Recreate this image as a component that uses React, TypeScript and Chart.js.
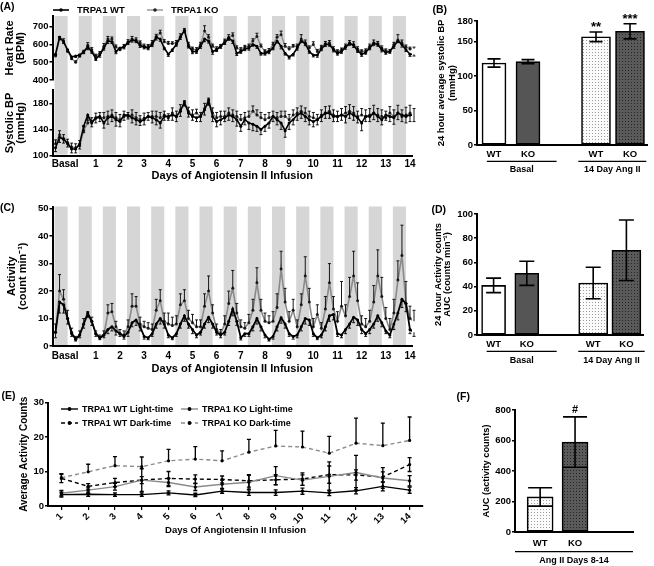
import React, { useEffect, useRef } from "react";
import { Chart, registerables } from "chart.js";

Chart.register(...registerables);

const FONT = "'Liberation Sans', Arial, Helvetica, sans-serif";
const BAND = "#d6d6d6";
const WT_LINE = "#000000";
const KO_LINE = "#8a8a8a";
const KO_FILL = "#555555";

// ---------------- Panels A & C : time course (4 h bins, 6 per day) ----------------
const DAY_LABELS = ["Basal", "1", "2", "3", "4", "5", "6", "7", "8", "9", "10", "11", "12", "13", "14"];
const BIN_HOURS = [2, 6, 10, 14, 18, 22];
const DARK_PHASE = [1, 14];

const HR_WT = [
  545, 640, 615, 570, 530, 535,
  540, 560, 585, 560, 520, 540,
  580, 620, 615, 560, 580, 585,
  610, 625, 620, 595, 585, 580,
  600, 640, 630, 580, 545, 570,
  600, 640, 680, 590, 560, 560,
  590, 630, 620, 560, 570, 590,
  610, 635, 620, 550, 560, 575,
  580, 600, 590, 550, 550, 560,
  580, 620, 590, 550, 530, 545,
  580, 620, 605, 560, 540, 540,
  575, 600, 600, 570, 550, 560,
  585, 605, 595, 565, 545, 555,
  580, 605, 600, 570, 555, 560,
  590, 620, 600, 570, 545, 545,
];
const HR_WT_ERR = [
  8, 12, 10, 10, 12, 8,
  10, 12, 15, 10, 10, 12,
  12, 15, 10, 12, 10, 10,
  10, 12, 10, 12, 10, 10,
  12, 15, 12, 10, 12, 10,
  10, 12, 12, 10, 12, 10,
  12, 15, 12, 15, 10, 12,
  10, 12, 15, 12, 10, 10,
  12, 10, 12, 10, 10, 12,
  10, 12, 15, 10, 12, 10,
  12, 10, 12, 10, 10, 12,
  10, 12, 10, 12, 10, 10,
  12, 10, 12, 10, 12, 10,
  10, 12, 10, 12, 10, 10,
  12, 10, 15, 10, 12, 10,
];
const HR_KO = [
  535, 630, 620, 560, 520, 500,
  535, 555, 595, 570, 535, 550,
  590, 630, 630, 585, 570, 590,
  615, 630, 625, 610, 590, 590,
  610, 645, 665, 615, 605, 605,
  610, 645, 675, 600, 575, 570,
  600, 675, 640, 590, 575, 590,
  620, 640, 650, 580, 570, 585,
  590, 620, 645, 590, 560, 565,
  600, 640, 655, 590, 575, 590,
  590, 630, 610, 580, 600, 560,
  585, 605, 610, 575, 560, 570,
  590, 610, 600, 575, 560, 565,
  590, 610, 605, 580, 565, 560,
  600, 625, 610, 585, 575, 575,
];
const HR_KO_ERR = [
  10, 15, 12, 10, 12, 8,
  10, 12, 15, 12, 10, 10,
  15, 15, 12, 12, 12, 10,
  12, 15, 12, 10, 12, 10,
  12, 12, 15, 12, 12, 10,
  12, 15, 15, 12, 10, 12,
  12, 30, 15, 12, 12, 10,
  10, 15, 15, 12, 12, 10,
  12, 12, 18, 12, 10, 12,
  12, 15, 20, 15, 12, 10,
  12, 25, 15, 12, 15, 12,
  10, 12, 12, 12, 10, 10,
  12, 12, 15, 12, 10, 10,
  12, 15, 12, 12, 10, 12,
  12, 30, 15, 12, 10, 10,
];

const BP_WT = [
  112, 128, 125, 118, 110, 110,
  118, 145, 162, 150, 158, 160,
  150, 158, 160, 155, 152, 162,
  162, 158, 155, 152, 155, 160,
  158, 155, 150, 160, 160, 162,
  160, 168, 182, 165, 160, 158,
  160, 170, 185, 160, 152, 155,
  158, 162, 160, 155, 145, 155,
  150, 148, 145, 140, 145, 150,
  160, 155, 150, 138, 150, 155,
  162, 165, 160, 155, 152, 155,
  160, 165, 165, 160, 160, 162,
  160, 165, 162, 158, 150, 160,
  160, 165, 160, 155, 162, 160,
  158, 165, 162, 160, 162, 162,
];
const BP_WT_ERR = [
  6, 8, 6, 5, 6, 6,
  8, 10, 8, 6, 8, 8,
  8, 10, 8, 10, 8, 8,
  6, 8, 8, 6, 8, 6,
  8, 8, 8, 6, 6, 8,
  8, 8, 6, 6, 6, 6,
  8, 8, 8, 8, 8, 8,
  6, 8, 8, 10, 8, 8,
  10, 10, 8, 8, 8, 8,
  8, 8, 10, 10, 10, 8,
  8, 8, 8, 8, 8, 8,
  8, 8, 8, 8, 8, 8,
  10, 8, 8, 8, 12, 8,
  8, 10, 8, 8, 8, 8,
  10, 10, 10, 10, 10, 10,
];
const BP_KO = [
  118, 132, 126, 120, 113, 112,
  115, 138, 150, 152, 157, 158,
  158, 160, 162, 158, 155, 160,
  160, 162, 158, 155, 157, 160,
  160, 160, 158, 162, 158, 165,
  160, 170, 178, 168, 162, 165,
  160, 172, 180, 165, 158, 160,
  160, 165, 162, 160, 155, 158,
  160, 168, 162, 158, 155, 158,
  160, 158, 160, 160, 155, 162,
  165, 168, 165, 160, 158, 155,
  162, 165, 168, 162, 160, 162,
  165, 168, 165, 160, 162, 160,
  162, 165, 162, 160, 158, 165,
  160, 165, 160, 162, 165, 162,
];
const BP_KO_ERR = [
  6, 6, 6, 5, 6, 6,
  8, 8, 8, 6, 8, 8,
  8, 8, 8, 8, 8, 8,
  6, 8, 8, 6, 8, 6,
  8, 8, 8, 6, 6, 8,
  8, 8, 6, 6, 8, 6,
  6, 8, 8, 8, 8, 8,
  8, 8, 8, 8, 8, 8,
  8, 8, 8, 8, 8, 8,
  8, 8, 8, 8, 8, 8,
  8, 8, 8, 8, 8, 8,
  8, 10, 8, 8, 8, 10,
  10, 10, 10, 8, 10, 10,
  10, 12, 10, 10, 10, 10,
  10, 12, 10, 12, 12, 10,
];

const ACT_WT = [
  5, 16, 15, 10, 4.5, 2.5,
  4, 8, 12, 9, 4.5, 3,
  4, 6, 7, 5.5, 4.5, 3.5,
  5, 8.5, 9.5, 7, 3.5, 3,
  4.5, 8, 10, 8, 4, 3,
  4.5, 8, 11, 8, 6, 4,
  5, 8, 10.5, 8, 5, 4,
  5, 9, 13.5, 9, 3, 4.5,
  4.5, 7, 10, 7, 4, 2.5,
  3.5, 7, 10.3, 8, 4.5, 3.5,
  4, 7, 10, 9.5, 4.5, 3,
  4, 7, 11, 11.5, 4.5, 4,
  6, 8, 10.5, 9.5, 6, 4.5,
  6, 8, 11, 8.5, 5.5, 4,
  8, 12, 17, 15.5, 6, 5,
];
const ACT_WT_ERR = [
  2, 4, 3, 2, 1, 0.7,
  1, 1.5, 1.5, 1.5, 1, 0.7,
  1, 1.5, 1.5, 1.5, 1, 1,
  1.5, 1.5, 2, 1.5, 1, 0.7,
  1, 1.5, 2, 1.5, 1, 0.7,
  1, 1.5, 2, 1.5, 1.5, 1,
  1, 1.5, 2, 1.5, 1, 1,
  1, 1.5, 2.5, 1.5, 0.8, 1,
  1, 1.5, 2, 1.5, 1, 0.7,
  1, 1.5, 2, 1.5, 1, 1,
  1, 1.5, 2, 2, 1, 0.7,
  1, 1.5, 2, 2, 1, 1,
  1.5, 1.5, 2, 2, 1.5, 1,
  1.5, 1.5, 2, 1.5, 1, 1,
  2, 2.5, 3, 3, 1.5, 1.5,
];
const ACT_KO = [
  5, 20, 17, 10, 5, 2.5,
  4, 8, 11, 9, 4.5, 3,
  4, 12, 12.5, 7, 4.5, 4,
  7, 14.5, 14.5, 8, 7, 6.5,
  6, 13, 16.5, 9, 8, 7.5,
  8, 15, 16.5, 10, 8.5, 7,
  7, 14.5, 20, 12, 6, 4.5,
  8, 15.5, 21, 12, 7, 6.5,
  8.5, 13, 23, 13, 9, 8.5,
  9, 14, 28, 16, 9, 13,
  7, 15, 25.5, 16, 7, 11.5,
  6.5, 13.5, 23, 13.5, 9, 14.5,
  11, 18, 25.5, 16.5, 8, 7,
  9, 16, 25.5, 18, 10, 6,
  12, 24, 33, 15.5, 10, 9,
];
const ACT_KO_ERR = [
  3, 6, 3.5, 3, 1.5, 1,
  1.5, 2, 1.5, 1.5, 1, 1,
  1.5, 3, 3, 2, 1.5, 1.5,
  2.5, 4.5, 3.5, 2.5, 2, 2,
  2, 4, 4, 3, 4, 3,
  3, 4, 4, 3, 3, 2.5,
  2.5, 4.5, 5.5, 3, 2, 1.5,
  3, 4.5, 6.5, 3.5, 2.5, 2,
  3, 4, 5.5, 4, 3, 2.5,
  3.5, 5, 6.5, 5, 3.5, 4,
  2.5, 4, 7, 5, 3, 3.5,
  2, 4.5, 7, 4.5, 3.5, 9,
  4, 7, 9, 6.5, 3, 3,
  4, 6, 9.5, 7, 4, 4,
  5, 7, 11, 8, 4.5, 4,
];

// ---------------- Panel E ----------------
const E_DAYS = ["1", "2", "3", "4", "5", "6", "7", "8", "9", "10", "11", "12", "13", "14"];
const E_WT_LIGHT = [3.3, 3.4, 3.3, 3.3, 3.8, 3.2, 4.3, 3.9, 3.9, 4.3, 3.8, 4.4, 5.7, 4.6];
const E_WT_LIGHT_ERR = [0.7, 0.6, 0.5, 0.5, 0.6, 0.5, 0.6, 0.8, 0.8, 0.9, 0.8, 0.9, 1.3, 0.9];
const E_KO_LIGHT = [3.7, 4.6, 5.6, 7.5, 6.8, 5.5, 6.3, 6.9, 8.8, 7.5, 8.6, 9.7, 8.1, 7.3];
const E_KO_LIGHT_ERR = [0.8, 0.9, 1.0, 3.3, 1.2, 1.0, 1.2, 2.0, 2.6, 1.5, 4.2, 5.0, 3.0, 1.5];
const E_WT_DARK = [8.0, 5.7, 6.8, 7.5, 8.0, 7.8, 7.7, 7.3, 7.6, 7.8, 9.1, 9.0, 8.4, 12.0];
const E_WT_DARK_ERR = [1.2, 0.8, 1.2, 1.0, 2.0, 1.2, 1.0, 1.8, 1.5, 1.8, 2.5, 1.5, 1.5, 2.0];
const E_KO_DARK = [8.2, 9.9, 11.7, 11.4, 13.1, 13.6, 13.1, 15.6, 17.4, 17.1, 15.3, 18.2, 17.5, 19.0];
const E_KO_DARK_ERR = [1.2, 2.2, 2.6, 2.8, 3.3, 3.6, 2.9, 3.7, 4.5, 4.6, 4.9, 7.3, 6.5, 6.8];

// ---------------- Panels B, D, F (bars) ----------------
const BAR_CATS = ["WT", "KO", "", "WT", "KO"];
const GROUP_NAMES = ["Basal", "14 Day Ang II"];
const BP24_BASAL = [119, 121];
const BP24_BASAL_ERR = [6, 3];
const BP24_ANG = [157, 165];
const BP24_ANG_ERR = [7, 11];
const BP24_SIG = ["**", "***"];
const B_YTICKS = [0, 50, 100, 150, 180];

const AUC24_BASAL = [41, 51];
const AUC24_BASAL_ERR = [6, 10];
const AUC24_ANG = [43, 70];
const AUC24_ANG_ERR = [13, 25];

const F_CATS = ["WT", "KO"];
const AUC_814 = [230, 590];
const AUC_814_ERR = [60, 165];
const F_SIG = ["", "#"];
const F_GROUP = "Ang II Days 8-14";

// ---------------- layout (page pixels) ----------------
type Box = { left: number; top: number; width: number; height: number };
type Area = { l: number; t: number; r: number; b: number };
const BOX_HR: Box = { left: 0, top: 0, width: 420, height: 86 };
const AREA_HR: Area = { l: 52.5, t: 16, r: 412, b: 80 };
const BOX_BP: Box = { left: 0, top: 86, width: 420, height: 96 };
const AREA_BP: Area = { l: 52.5, t: 90.3, r: 412, b: 155.5 };
const BOX_C: Box = { left: 0, top: 196, width: 420, height: 182 };
const AREA_C: Area = { l: 52.5, t: 206.5, r: 412, b: 346 };
const BOX_B: Box = { left: 420, top: 0, width: 234, height: 180 };
const AREA_B: Area = { l: 477, t: 21, r: 647, b: 145 };
const BOX_D: Box = { left: 420, top: 196, width: 234, height: 176 };
const AREA_D: Area = { l: 477, t: 214, r: 643, b: 335 };
const BOX_E: Box = { left: 0, top: 385, width: 440, height: 155 };
const AREA_E: Area = { l: 48, t: 402.5, r: 423, b: 506 };
const BOX_F: Box = { left: 470, top: 385, width: 184, height: 181 };
const AREA_F: Area = { l: 515, t: 410, r: 633, b: 532 };

const TIME_MIN = -1;
const TIME_MAX = 356;
const dayTick = (i: number) => (i === 0 ? 11.5 : 18 + 24 * i);
const HOURS = DAY_LABELS.flatMap((_, d) => BIN_HOURS.map((h) => d * 24 + h));
const pts = (vals: number[]) => vals.map((y, i) => ({ x: HOURS[i], y }));

function frame(box: Box, area: Area, xVisible = true) {
  const yWidth = area.l - box.left;
  const xHeight = box.top + box.height - area.b;
  return {
    layout: {
      autoPadding: false,
      padding: { left: 0, top: area.t - box.top, right: box.left + box.width - area.r, bottom: xVisible ? 0 : xHeight },
    },
    fitY: (s: any) => {
      s.width = yWidth;
      s.paddingTop = 0;
      s.paddingBottom = 0;
    },
    fitX: (s: any) => {
      s.height = xVisible ? xHeight : 0;
      s.paddingLeft = 0;
      s.paddingRight = 0;
    },
  };
}

const bold = (size: number, lh = 1.2) => ({ family: FONT, size, weight: "bold" as const, lineHeight: lh });

function yAxis(fit: any, min: number, max: number, step: number, title: any, tSize: number, tLH: number, tPad: number, extra: any = {}) {
  return {
    type: "linear",
    min,
    max,
    afterFit: fit,
    ticks: { stepSize: step, includeBounds: false, color: "#000", font: bold(9.5), padding: 1 },
    grid: { display: true, drawOnChartArea: false, drawTicks: true, tickLength: 3, color: "#000", lineWidth: 1.5 },
    border: { display: true, color: "#000", width: 2 },
    title: { display: true, text: title, color: "#000", font: bold(tSize, tLH), padding: { top: tPad, bottom: 0 } },
    ...extra,
  };
}

// ---------------- plugins ----------------
const bandsPlugin = {
  id: "bands",
  beforeDatasetsDraw(chart: any, _a: any, opts: any) {
    if (!opts || !opts.days) return;
    const { ctx, chartArea } = chart;
    const xs = chart.scales.x;
    const top = opts.extendTop ? 0 : chartArea.top;
    const bottom = opts.extendBottom ? chart.height : chartArea.bottom - 1;
    ctx.save();
    ctx.fillStyle = opts.color;
    for (let d = 0; d < opts.days; d++) {
      let x1 = xs.getPixelForValue(d * 24 + opts.start);
      let x2 = xs.getPixelForValue(d * 24 + opts.end);
      x1 = Math.max(x1, chartArea.left + 1);
      x2 = Math.min(x2, chartArea.right);
      if (x2 > x1) ctx.fillRect(x1, top, x2 - x1, bottom - top);
    }
    ctx.restore();
  },
};

const errPlugin = {
  id: "errbars",
  afterDatasetsDraw(chart: any) {
    const { ctx } = chart;
    chart.data.datasets.forEach((ds: any, i: number) => {
      if (!ds.errUp && !ds.errDown && !ds.notes) return;
      const meta = chart.getDatasetMeta(i);
      const ys = chart.scales[meta.yAxisID];
      ctx.save();
      ctx.strokeStyle = ds.errColor || "#000";
      ctx.lineWidth = ds.errWidth || 1;
      const cap = (ds.errCap || 4) / 2;
      meta.data.forEach((el: any, j: number) => {
        const raw = ds.data[j];
        const v = raw == null ? null : typeof raw === "object" ? raw.y : raw;
        if (v == null) return;
        const up = ds.errUp ? ds.errUp[j] || 0 : 0;
        const dn = ds.errDown ? ds.errDown[j] || 0 : 0;
        const x = el.x;
        const y0 = ys.getPixelForValue(v);
        const y1 = ys.getPixelForValue(v + up);
        const y2 = ys.getPixelForValue(v - dn);
        ctx.beginPath();
        if (up > 0) {
          ctx.moveTo(x, y0);
          ctx.lineTo(x, y1);
          ctx.moveTo(x - cap, y1);
          ctx.lineTo(x + cap, y1);
        }
        if (dn > 0) {
          ctx.moveTo(x, y0);
          ctx.lineTo(x, y2);
          ctx.moveTo(x - cap, y2);
          ctx.lineTo(x + cap, y2);
        }
        ctx.stroke();
        if (ds.notes && ds.notes[j]) {
          ctx.fillStyle = "#000";
          ctx.font = `bold ${ds.noteSize || 12}px ${FONT}`;
          ctx.textAlign = "center";
          ctx.textBaseline = "alphabetic";
          ctx.fillText(ds.notes[j], x, y1 - (ds.noteGap || 0));
        }
      });
      ctx.restore();
    });
  },
};

const legendPlugin = {
  id: "seriesLegend",
  afterDraw(chart: any, _a: any, opts: any) {
    if (!opts || !opts.items) return;
    const { ctx } = chart;
    ctx.save();
    ctx.font = `bold ${opts.size}px ${FONT}`;
    ctx.textBaseline = "middle";
    ctx.textAlign = "left";
    opts.items.forEach((it: any) => {
      const ds = chart.data.datasets[it.ds];
      ctx.strokeStyle = ds.borderColor;
      ctx.lineWidth = ds.borderWidth;
      ctx.setLineDash(ds.borderDash || []);
      ctx.beginPath();
      ctx.moveTo(it.x, it.y);
      ctx.lineTo(it.x + opts.lineLen, it.y);
      ctx.stroke();
      ctx.setLineDash([]);
      ctx.fillStyle = ds.pointBackgroundColor;
      ctx.beginPath();
      ctx.arc(it.x + opts.lineLen / 2, it.y, (ds.pointRadius || 1.5) + 0.3, 0, Math.PI * 2);
      ctx.fill();
      ctx.fillStyle = "#000";
      ctx.fillText(ds.label, it.x + opts.lineLen + opts.gap, it.y + 0.5);
    });
    ctx.restore();
  },
};

const groupPlugin = {
  id: "groups",
  afterDraw(chart: any, _a: any, opts: any) {
    if (!opts || !opts.groups) return;
    const { ctx, chartArea } = chart;
    const xs = chart.scales.x;
    ctx.save();
    ctx.strokeStyle = "#000";
    ctx.lineWidth = 1.2;
    ctx.fillStyle = "#000";
    ctx.font = `bold ${opts.size}px ${FONT}`;
    ctx.textAlign = "center";
    ctx.textBaseline = "middle";
    opts.groups.forEach((g: any) => {
      const x1 = xs.getPixelForValue(g.from);
      const x2 = xs.getPixelForValue(g.to);
      const ly = chartArea.bottom + opts.lineDy;
      ctx.beginPath();
      ctx.moveTo(x1, ly);
      ctx.lineTo(x2, ly);
      ctx.stroke();
      ctx.fillText(g.label, (x1 + x2) / 2, chartArea.bottom + opts.textDy);
    });
    ctx.restore();
  },
};

function dotPattern(bg: string, dot: string): any {
  const c = document.createElement("canvas");
  c.width = 3;
  c.height = 3;
  const g = c.getContext("2d");
  if (!g) return bg;
  g.fillStyle = bg;
  g.fillRect(0, 0, 3, 3);
  g.fillStyle = dot;
  g.fillRect(1, 1, 1, 1);
  return g.createPattern(c, "repeat") || bg;
}

const baseOpts = {
  responsive: false,
  animation: false,
  devicePixelRatio: 1,
  events: [],
};

function timeX(fit: any, show: boolean, tickPad: number, titlePad: number) {
  return {
    type: "linear",
    min: TIME_MIN,
    max: TIME_MAX,
    display: show,
    afterFit: fit,
    afterBuildTicks: (s: any) => {
      s.ticks = DAY_LABELS.map((_, i) => ({ value: dayTick(i) }));
    },
    ticks: {
      autoSkip: false,
      maxRotation: 0,
      minRotation: 0,
      color: "#000",
      font: bold(10),
      padding: tickPad,
      callback: (_v: any, i: number) => DAY_LABELS[i],
    },
    grid: { display: false, drawTicks: false },
    border: { display: true, color: "#000", width: 2 },
    title: {
      display: show,
      text: "Days of Angiotensin II Infusion",
      color: "#000",
      font: bold(11, 1.1),
      padding: { top: 0, bottom: titlePad },
    },
  };
}

function seriesSets(wtLabel: string, koLabel: string, wt: number[], wtErr: number[], ko: number[], koErr: number[], wtW: number, koW: number) {
  return [
    {
      label: wtLabel,
      data: pts(wt),
      borderColor: WT_LINE,
      borderWidth: wtW,
      pointRadius: 1.5,
      pointBackgroundColor: "#000",
      pointBorderWidth: 0,
      errDown: wtErr,
      errCap: 3,
      errWidth: 0.9,
    },
    {
      label: koLabel,
      data: pts(ko),
      borderColor: KO_LINE,
      borderWidth: koW,
      pointRadius: 1.5,
      pointBackgroundColor: "#222",
      pointBorderWidth: 0,
      errUp: koErr,
      errCap: 3,
      errWidth: 0.9,
    },
  ];
}

function barSets(cats: string[], basal: number[], basalErr: number[], ang: number[], angErr: number[], lightPat: any, darkPat: any, capW: number, sig: string[] | null) {
  const n = cats.length;
  const basalData = cats.map((_, i) => (i < 2 ? basal[i] : null));
  const basalErrs = cats.map((_, i) => (i < 2 ? basalErr[i] : 0));
  const angData = cats.map((_, i) => (i >= 3 ? ang[i - 3] : null));
  const angErrs = cats.map((_, i) => (i >= 3 ? angErr[i - 3] : 0));
  const notes = sig ? cats.map((_, i) => (i >= 3 ? sig[i - 3] : "")) : null;
  return [
    {
      label: "Basal",
      data: basalData,
      backgroundColor: ["#ffffff", KO_FILL, "#fff", "#fff", "#fff"].slice(0, n),
      borderColor: "#000",
      borderWidth: 1.6,
      borderSkipped: false,
      barThickness: 24,
      grouped: false,
      errUp: basalErrs,
      errDown: basalErrs,
      errCap: capW,
      errWidth: 1.6,
    },
    {
      label: "14 Day Ang II",
      data: angData,
      backgroundColor: ["#fff", "#fff", "#fff", lightPat, darkPat].slice(0, n),
      borderColor: "#000",
      borderWidth: 1.6,
      borderSkipped: false,
      barThickness: 29,
      grouped: false,
      errUp: angErrs,
      errDown: angErrs,
      errCap: capW,
      errWidth: 1.6,
      notes,
      noteSize: 13,
      noteGap: 1,
    },
  ];
}

function catX(fit: any, labels: string[], pad: number) {
  return {
    type: "category",
    labels,
    offset: true,
    afterFit: fit,
    ticks: { color: "#000", font: bold(9.5, 1.2), padding: pad, autoSkip: false, maxRotation: 0 },
    grid: { display: false, drawTicks: false },
    border: { display: true, color: "#000", width: 2 },
  };
}

export default function App() {
  const hrRef = useRef<HTMLCanvasElement>(null);
  const bpRef = useRef<HTMLCanvasElement>(null);
  const cRef = useRef<HTMLCanvasElement>(null);
  const bRef = useRef<HTMLCanvasElement>(null);
  const dRef = useRef<HTMLCanvasElement>(null);
  const eRef = useRef<HTMLCanvasElement>(null);
  const fRef = useRef<HTMLCanvasElement>(null);

  useEffect(() => {
    const charts: any[] = [];
    const make = (cv: HTMLCanvasElement | null, cfg: any) => {
      if (cv) charts.push(new Chart(cv, cfg));
    };
    const lightPat = dotPattern("#fbfbfb", "#9c9c9c");
    const darkPat = dotPattern("#5a5a5a", "#262626");

    // ---- A: heart rate ----
    const fHR = frame(BOX_HR, AREA_HR, false);
    make(hrRef.current, {
      type: "line",
      data: { datasets: seriesSets("TRPA1 WT", "TRPA1 KO", HR_WT, HR_WT_ERR, HR_KO, HR_KO_ERR, 1.6, 1.3) },
      options: {
        ...baseOpts,
        layout: fHR.layout,
        scales: {
          x: timeX(fHR.fitX, false, 0, 0),
          y: yAxis(fHR.fitY, 400, 760, 100, ["Heart Rate", "(BPM)"], 11, 1.0, 4.5),
        },
        plugins: {
          legend: { display: false },
          tooltip: { enabled: false },
          bands: { days: 15, start: DARK_PHASE[0], end: DARK_PHASE[1], color: BAND, extendTop: false, extendBottom: true },
          seriesLegend: { size: 9.5, lineLen: 16, gap: 8, items: [{ ds: 0, x: 53, y: 10 }, { ds: 1, x: 147, y: 10 }] },
        },
      },
      plugins: [bandsPlugin, errPlugin, legendPlugin],
    });

    // ---- A: systolic BP ----
    const fBP = frame(BOX_BP, AREA_BP, true);
    make(bpRef.current, {
      type: "line",
      data: { datasets: seriesSets("TRPA1 WT", "TRPA1 KO", BP_WT, BP_WT_ERR, BP_KO, BP_KO_ERR, 1.6, 1.3) },
      options: {
        ...baseOpts,
        layout: fBP.layout,
        scales: {
          x: timeX(fBP.fitX, true, 2.5, 0),
          y: yAxis(fBP.fitY, 100, 200, 20, ["Systolic BP", "(mmHg)"], 11, 1.0, 4.5),
        },
        plugins: {
          legend: { display: false },
          tooltip: { enabled: false },
          bands: { days: 15, start: DARK_PHASE[0], end: DARK_PHASE[1], color: BAND, extendTop: true, extendBottom: false },
        },
      },
      plugins: [bandsPlugin, errPlugin],
    });

    // ---- C: activity ----
    const fC = frame(BOX_C, AREA_C, true);
    make(cRef.current, {
      type: "line",
      data: { datasets: seriesSets("TRPA1 WT", "TRPA1 KO", ACT_WT, ACT_WT_ERR, ACT_KO, ACT_KO_ERR, 1.8, 1.6) },
      options: {
        ...baseOpts,
        layout: fC.layout,
        scales: {
          x: timeX(fC.fitX, true, 4, 3),
          y: yAxis(fC.fitY, 0, 50.8, 10, ["Activity", "(count min\u207B\u00B9)"], 11, 1.0, 6.5),
        },
        plugins: {
          legend: { display: false },
          tooltip: { enabled: false },
          bands: { days: 15, start: DARK_PHASE[0], end: DARK_PHASE[1], color: BAND, extendTop: false, extendBottom: false },
        },
      },
      plugins: [bandsPlugin, errPlugin],
    });

    // ---- B: 24 h BP bars ----
    const fB = frame(BOX_B, AREA_B, true);
    make(bRef.current, {
      type: "bar",
      data: { labels: BAR_CATS, datasets: barSets(BAR_CATS, BP24_BASAL, BP24_BASAL_ERR, BP24_ANG, BP24_ANG_ERR, lightPat, darkPat, 13, BP24_SIG) },
      options: {
        ...baseOpts,
        layout: fB.layout,
        scales: {
          x: catX(fB.fitX, BAR_CATS, 3.7),
          y: yAxis(fB.fitY, 0, 180, 50, ["24 hour average systolic BP", "(mmHg)"], 9.5, 11.3 / 9.5, 15.8, {
            afterBuildTicks: (s: any) => {
              s.ticks = B_YTICKS.map((v) => ({ value: v }));
            },
          }),
        },
        plugins: {
          legend: { display: false },
          tooltip: { enabled: false },
          groups: {
            size: 9,
            lineDy: 16.3,
            textDy: 25,
            groups: [
              { from: -0.21, to: 1.84, label: GROUP_NAMES[0] },
              { from: 2.48, to: 4.48, label: GROUP_NAMES[1] },
            ],
          },
        },
      },
      plugins: [errPlugin, groupPlugin],
    });

    // ---- D: 24 h activity AUC bars ----
    const fD = frame(BOX_D, AREA_D, true);
    make(dRef.current, {
      type: "bar",
      data: { labels: BAR_CATS, datasets: barSets(BAR_CATS, AUC24_BASAL, AUC24_BASAL_ERR, AUC24_ANG, AUC24_ANG_ERR, lightPat, darkPat, 15, null) },
      options: {
        ...baseOpts,
        layout: fD.layout,
        scales: {
          x: catX(fD.fitX, BAR_CATS, 3.7),
          y: yAxis(fD.fitY, 0, 100, 20, ["24 hour Activity counts", "AUC (counts min\u207B\u00B9)"], 9.3, 9.7 / 9.3, 13.2),
        },
        plugins: {
          legend: { display: false },
          tooltip: { enabled: false },
          groups: {
            size: 9,
            lineDy: 16.3,
            textDy: 25.3,
            groups: [
              { from: -0.21, to: 1.9, label: GROUP_NAMES[0] },
              { from: 2.55, to: 4.55, label: GROUP_NAMES[1] },
            ],
          },
        },
      },
      plugins: [errPlugin, groupPlugin],
    });

    // ---- E: light/dark average activity ----
    const fE = frame(BOX_E, AREA_E, true);
    const eSet = (label: string, data: number[], err: number[], color: string, dash: number[], both: boolean) => ({
      label,
      data,
      borderColor: color,
      borderWidth: 1.4,
      borderDash: dash,
      pointRadius: 1.6,
      pointBackgroundColor: "#000",
      pointBorderWidth: 0,
      errUp: err,
      errDown: both ? err : null,
      errCap: 4,
      errWidth: 1.3,
    });
    make(eRef.current, {
      type: "line",
      data: {
        labels: E_DAYS,
        datasets: [
          eSet("TRPA1 WT Light-time", E_WT_LIGHT, E_WT_LIGHT_ERR, "#000", [], true),
          eSet("TRPA1 KO Light-time", E_KO_LIGHT, E_KO_LIGHT_ERR, KO_LINE, [], true),
          eSet("TRPA1 WT Dark-time", E_WT_DARK, E_WT_DARK_ERR, "#000", [4, 3], true),
          eSet("TRPA1 KO Dark-time", E_KO_DARK, E_KO_DARK_ERR, KO_LINE, [4, 3], false),
        ],
      },
      options: {
        ...baseOpts,
        layout: fE.layout,
        scales: {
          x: {
            type: "category",
            offset: true,
            afterFit: fE.fitX,
            ticks: { color: "#000", font: bold(9.5), minRotation: 45, maxRotation: 45, padding: 1, autoSkip: false },
            grid: { display: true, drawOnChartArea: false, drawTicks: true, tickLength: 4, color: "#000", lineWidth: 1.2, offset: false },
            border: { display: true, color: "#000", width: 2 },
            title: { display: true, text: "Days Of Angiotensin II Infusion", color: "#000", font: bold(9.5, 1.1), padding: { top: 0, bottom: 4.5 } },
          },
          y: yAxis(fE.fitY, 0, 30, 10, "Average Activity Counts", 10, 1.2, 18),
        },
        plugins: {
          legend: { display: false },
          tooltip: { enabled: false },
          seriesLegend: {
            size: 9,
            lineLen: 17,
            gap: 4,
            items: [
              { ds: 0, x: 61, y: 24 },
              { ds: 1, x: 181, y: 24 },
              { ds: 2, x: 61, y: 38 },
              { ds: 3, x: 181, y: 38 },
            ],
          },
        },
      },
      plugins: [errPlugin, legendPlugin],
    });

    // ---- F: AUC days 8-14 ----
    const fF = frame(BOX_F, AREA_F, true);
    const F_XMIN = -0.72;
    const F_XMAX = 2.66;
    make(fRef.current, {
      type: "bar",
      data: {
        datasets: [
          {
            label: "AUC",
            data: AUC_814.map((y, i) => ({ x: i, y })),
            backgroundColor: [lightPat, darkPat],
            borderColor: "#000",
            borderWidth: 1.6,
            borderSkipped: false,
            barThickness: 26,
            errUp: AUC_814_ERR,
            errDown: AUC_814_ERR,
            errCap: 24,
            errWidth: 1.6,
            notes: F_SIG,
            noteSize: 11,
            noteGap: 4,
          },
        ],
      },
      options: {
        ...baseOpts,
        layout: fF.layout,
        scales: {
          x: {
            type: "linear",
            min: F_XMIN,
            max: F_XMAX,
            offset: false,
            afterFit: fF.fitX,
            afterBuildTicks: (s: any) => {
              s.ticks = F_CATS.map((_, i) => ({ value: i }));
            },
            ticks: { color: "#000", font: bold(9.5, 1.2), padding: 5.7, autoSkip: false, maxRotation: 0, callback: (_v: any, i: number) => F_CATS[i] },
            grid: { display: false, drawTicks: false },
            border: { display: true, color: "#000", width: 2 },
          },
          y: yAxis(fF.fitY, 0, 800, 200, "AUC (activity counts)", 9.2, 1.2, 11.2),
        },
        plugins: {
          legend: { display: false },
          tooltip: { enabled: false },
          groups: { size: 9, lineDy: 19.7, textDy: 28.7, groups: [{ from: F_XMIN, to: F_XMAX, label: F_GROUP }] },
        },
      },
      plugins: [errPlugin, groupPlugin],
    });

    return () => charts.forEach((c) => c.destroy());
  }, []);

  const cv = (ref: any, b: Box) => (
    <canvas ref={ref} width={b.width} height={b.height} style={{ position: "absolute", left: b.left, top: b.top, width: b.width, height: b.height }} />
  );
  const lab = (t: string, left: number, top: number) => (
    <div style={{ position: "absolute", left, top, font: `bold 10.5px ${FONT}`, lineHeight: "12px", color: "#000", whiteSpace: "nowrap" }}>{t}</div>
  );

  return (
    <div style={{ position: "absolute", left: 0, top: 0, width: 654, height: 566, background: "#fff", overflow: "hidden" }}>
      {cv(hrRef, BOX_HR)}
      {cv(bpRef, BOX_BP)}
      {cv(cRef, BOX_C)}
      {cv(bRef, BOX_B)}
      {cv(dRef, BOX_D)}
      {cv(eRef, BOX_E)}
      {cv(fRef, BOX_F)}
      {lab("(A)", 0, 0)}
      {lab("(B)", 432.5, 3)}
      {lab("(C)", 0, 200.5)}
      {lab("(D)", 431.5, 203)}
      {lab("(E)", 1.5, 389)}
      {lab("(F)", 456.5, 390)}
    </div>
  );
}
